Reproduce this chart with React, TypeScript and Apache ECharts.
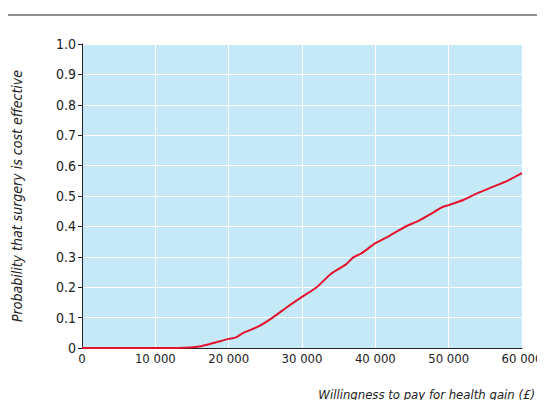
import React, { useEffect, useRef } from "react";
import * as echarts from "echarts";

const xVals = [0, 2000, 4000, 6000, 8000, 10000, 12000, 14000, 16000, 18000, 20000, 21000, 22000, 24000, 26000, 28000, 30000, 32000, 34000, 36000, 37000, 38000, 39000, 40000, 42000, 44000, 46000, 48000, 49000, 50000, 52000, 54000, 56000, 58000, 60000];
const yVals = [0, 0, 0, 0, 0, 0, 0, 0.001, 0.005, 0.017, 0.03, 0.035, 0.05, 0.07, 0.1, 0.135, 0.168, 0.2, 0.245, 0.275, 0.298, 0.31, 0.327, 0.345, 0.37, 0.398, 0.42, 0.447, 0.462, 0.47, 0.487, 0.51, 0.53, 0.55, 0.575];

const font = "'DejaVu Sans Condensed', 'Liberation Sans Narrow', sans-serif";

export default function App() {
  const ref = useRef<HTMLDivElement>(null);
  useEffect(() => {
    const chart = echarts.init(ref.current!, null, { renderer: "svg" });
    chart.setOption({
      animation: false,
      graphic: [
        { type: "line", shape: { x1: 0, y1: 7, x2: 537, y2: 7 }, style: { stroke: "#222", lineWidth: 1 } },
        { type: "text", x: 527, y: 386, style: { text: "Willingness to pay for health gain (£)", font: "italic 13px " + font, fill: "#222", textAlign: "right", textVerticalAlign: "middle" } },
      ],
      grid: { left: 74, right: 23, top: 36, bottom: 52, show: true, backgroundColor: "#c6e9f8", borderWidth: 0, outerBoundsMode: "none", containLabel: false },
      xAxis: {
        type: "value", min: 0, max: 60000, interval: 10000,
        axisLine: { lineStyle: { color: "#222" } },
        axisTick: { show: false },
        axisLabel: { fontFamily: font, fontSize: 13, color: "#222", margin: 4, formatter: (v: number) => v === 0 ? "0" : String(v).replace(/(\d)(?=(\d{3})+$)/g, "$1 ") },
        splitLine: { show: true, lineStyle: { color: "#fff", width: 1 } },
      },
      yAxis: {
        type: "value", min: 0, max: 1, interval: 0.1,
        name: "Probability that surgery is cost effective", nameLocation: "middle", nameGap: 58, nameRotate: 90,
        nameTextStyle: { fontFamily: font, fontStyle: "italic", fontSize: 14, color: "#222" },
        axisLine: { show: true, lineStyle: { color: "#222" } },
        axisTick: { show: true, inside: false, length: 4, lineStyle: { color: "#222" } },
        axisLabel: { fontFamily: font, fontSize: 14, color: "#222", margin: 6, formatter: (v: number) => v === 0 ? "0" : v.toFixed(1) },
        splitLine: { show: true, lineStyle: { color: "#fff", width: 1 } },
      },
      series: [{
        type: "line", data: xVals.map((x, i) => [x, yVals[i]]), showSymbol: false,
        lineStyle: { color: "#e3122d", width: 2 }, smooth: 0.2,
      }],
    });
    return () => chart.dispose();
  }, []);
  return <div ref={ref} style={{ width: 537, height: 392 }} />;
}
